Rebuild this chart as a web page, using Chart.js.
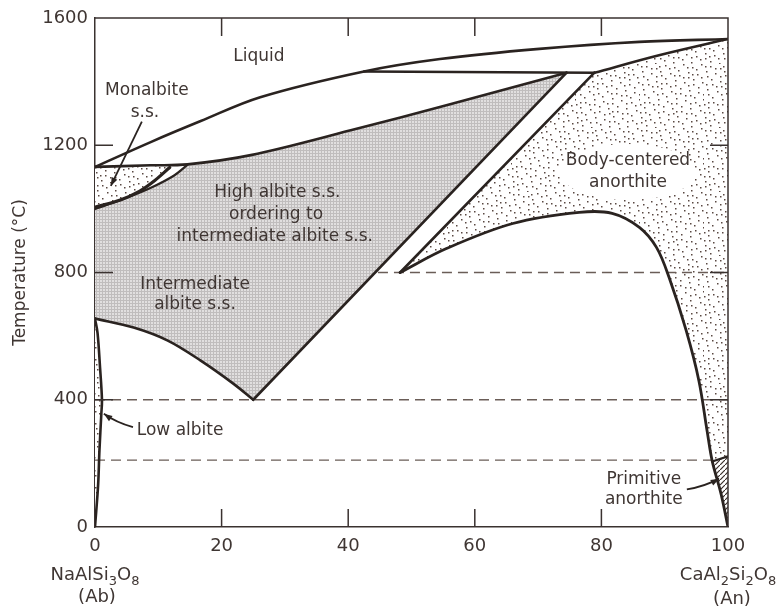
<!DOCTYPE html>
<html>
<head>
<meta charset="utf-8">
<script src="https://cdn.jsdelivr.net/npm/chart.js@4.4.1/dist/chart.umd.min.js"></script>
<style>
  html, body { margin: 0; padding: 0; background: #fff; }
  #wrap { width: 782px; height: 610px; }
</style>
</head>
<body>
<div id="wrap"><canvas id="phase" width="782" height="610"></canvas></div>
<script>
// x = mol % An (CaAl2Si2O8), y = temperature in °C
const liquidus = [[0, 1132], [8.8, 1210], [16.7, 1276], [26.1, 1351], [42.5, 1432], [54.5, 1471], [70.2, 1503], [86, 1525], [100, 1534]];
const solidusAb = [[0, 1132], [8.8, 1137], [14.6, 1140], [24.6, 1169], [40.4, 1247], [56.1, 1329], [74.5, 1428]];
const peritectic = [[42.5, 1432], [78.9, 1428]];
const solidusAn = [[78.9, 1428], [89.1, 1483], [100, 1534]];
const monalbiteBase = [[11.8, 1130], [9.5, 1090], [7, 1055], [4, 1028], [0, 1005]];
const highAlbiteTop = [[0, 1000], [5, 1035], [9, 1068], [12.5, 1105], [14.6, 1138]];
const orderingLine = [[25, 400], [74.5, 1428]];
const intermediateBase = [[0, 655], [6.1, 627], [11.5, 586], [16.7, 523], [21.9, 450], [25, 400]];
const bodyCenteredEdge = [[48.2, 800], [78.9, 1428]];
const bodyCenteredBase = [[48.2, 800], [55.6, 876], [66, 954], [76.5, 989], [81.7, 986], [86, 942], [88.7, 879], [90.7, 784], [93.4, 617], [95.4, 460], [96.7, 302], [97.5, 208], [98.9, 104], [100, 0]];
const primitiveTop = [[97.5, 206], [100, 222]];
const lowAlbite = [[0, 655], [0.4, 610], [0.8, 500], [1.1, 400], [1.0, 356], [0.7, 240], [0.5, 135], [0, 0]];
const dashed800 = [[44.7, 800], [100, 800]];
const dashed400 = [[0, 400], [100, 400]];
const dashed210 = [[0, 210], [97.5, 210]];
const xTicks = [0, 20, 40, 60, 80, 100];
const yTicks = [0, 400, 800, 1200, 1600];

const INK = '#2a2320';
const TEXT = '#3f3633';
const FONT = '"DejaVu Sans", sans-serif';

// region labels and pointers, placed in data coordinates
const notes = [
    { text: 'Liquid', x: 25.9, y: 1478 },
    { text: 'Monalbite', x: 8.2, y: 1371 },
    { text: 's.s.', x: 7.9, y: 1302 },
    { text: 'High albite s.s.', x: 28.8, y: 1050 },
    { text: 'ordering to', x: 28.6, y: 981 },
    { text: 'intermediate albite s.s.', x: 28.4, y: 912 },
    { text: 'Intermediate', x: 15.8, y: 761 },
    { text: 'albite s.s.', x: 15.8, y: 698 },
    { text: 'Body-centered', x: 84.2, y: 1151 },
    { text: 'anorthite', x: 84.2, y: 1082 },
    { text: 'Low albite', x: 6.6, y: 302, align: 'left' },
    { text: 'Primitive', x: 86.7, y: 148 },
    { text: 'anorthite', x: 86.7, y: 85 }
];
const pointers = [
    [[7.4, 1274], [2.5, 1072]],
    [[6.0, 314], [3.4, 328], [1.4, 356]],
    [[93.5, 118], [96.4, 128], [98.6, 152]]
];

function pt(arr) {
    return arr.map(([x, y]) => ({ x, y }));
}

function crossHatch() {
    const c = document.createElement('canvas');
    c.width = c.height = 3;
    const g = c.getContext('2d');
    g.fillStyle = '#e1dfdf'; g.fillRect(0, 0, 3, 3);
    g.fillStyle = '#c0bdbd'; g.fillRect(0, 0, 3, 1); g.fillRect(0, 0, 1, 3);
    return g.createPattern(c, 'repeat');
}

// quasi-uniform dot texture (R2 low-discrepancy sequence)
function stipple() {
    const n = 64;
    const c = document.createElement('canvas');
    c.width = c.height = n;
    const g = c.getContext('2d');
    g.fillStyle = '#ffffff'; g.fillRect(0, 0, n, n);
    g.fillStyle = '#5a4943';
    const a1 = 0.7548776662, a2 = 0.5698402910;
    for (let i = 1; i <= 120; i++) {
        const px = ((0.5 + a1 * i) % 1) * n;
        const py = ((0.5 + a2 * i) % 1) * n;
        g.fillRect(Math.floor(px), Math.floor(py), 1.5, 1.5);
    }
    return g.createPattern(c, 'repeat');
}

function hatch() {
    const c = document.createElement('canvas');
    c.width = c.height = 5;
    const g = c.getContext('2d');
    g.fillStyle = '#ffffff'; g.fillRect(0, 0, 5, 5);
    g.strokeStyle = '#3a302c'; g.lineWidth = 1.2;
    g.beginPath(); g.moveTo(0, 5); g.lineTo(5, 0); g.stroke();
    return g.createPattern(c, 'repeat');
}

function area(points, fillStyle) {
    return {
        data: pt(points), showLine: true, fill: 'shape', backgroundColor: fillStyle,
        borderWidth: 0, pointRadius: 0, tension: 0, order: 10
    };
}

function edge(points, width, curve) {
    return {
        data: pt(points), showLine: true, fill: false, borderColor: INK, borderWidth: width,
        pointRadius: 0, tension: curve ? 0.35 : 0, order: 2,
        borderCapStyle: 'round', borderJoinStyle: 'round'
    };
}

function dashed(points) {
    return {
        data: pt(points), showLine: true, fill: false, borderColor: '#6a5d57', borderWidth: 1.3,
        borderDash: [10, 6], pointRadius: 0, tension: 0, order: 3
    };
}

// polygons built from the boundary curves above
const grayRegion = [...highAlbiteTop, ...solidusAb.slice(3), orderingLine[0], ...intermediateBase.slice().reverse()];
const monalbiteRegion = [solidusAb[0], solidusAb[1], ...monalbiteBase];
const bodyCenteredRegion = [...bodyCenteredEdge, ...solidusAn.slice(1), ...primitiveTop.slice().reverse(), ...bodyCenteredBase.slice(0, 12).reverse()];
const primitiveRegion = [...primitiveTop, ...bodyCenteredBase.slice(11).reverse()];

const decorations = {
    id: 'decorations',
    afterDatasetsDraw(chart) {
        const { ctx, chartArea: a, scales: { x, y } } = chart;
        ctx.save();

        // frame top/right + inward ticks
        ctx.strokeStyle = '#3a3230';
        ctx.lineWidth = 1.5;
        ctx.beginPath();
        ctx.moveTo(a.left, a.top); ctx.lineTo(a.right, a.top); ctx.lineTo(a.right, a.bottom);
        ctx.stroke();
        const tl = 18;
        ctx.beginPath();
        xTicks.slice(1, -1).forEach(v => {
            const px = x.getPixelForValue(v);
            ctx.moveTo(px, a.top); ctx.lineTo(px, a.top + tl);
            ctx.moveTo(px, a.bottom); ctx.lineTo(px, a.bottom - tl);
        });
        yTicks.slice(1, -1).forEach(v => {
            const py = y.getPixelForValue(v);
            ctx.moveTo(a.left, py); ctx.lineTo(a.left + tl, py);
            ctx.moveTo(a.right, py); ctx.lineTo(a.right - tl, py);
        });
        ctx.stroke();

        // white patch behind the anorthite label
        ctx.fillStyle = '#ffffff';
        const bx = x.getPixelForValue(84.2), by = y.getPixelForValue(1116);
        ctx.beginPath();
        ctx.ellipse(bx, by, 68, 28, 0, 0, Math.PI * 2);
        ctx.fill();

        // labels
        ctx.fillStyle = TEXT;
        ctx.font = '17px ' + FONT;
        ctx.textBaseline = 'middle';
        notes.forEach(n => {
            ctx.textAlign = n.align || 'center';
            ctx.fillText(n.text, x.getPixelForValue(n.x), y.getPixelForValue(n.y));
        });

        // pointers
        ctx.strokeStyle = INK;
        ctx.fillStyle = INK;
        ctx.lineWidth = 1.8;
        pointers.forEach(p => {
            const pts = p.map(([vx, vy]) => [x.getPixelForValue(vx), y.getPixelForValue(vy)]);
            ctx.beginPath();
            ctx.moveTo(pts[0][0], pts[0][1]);
            if (pts.length === 3) {
                ctx.quadraticCurveTo(pts[1][0], pts[1][1], pts[2][0], pts[2][1]);
            } else {
                ctx.lineTo(pts[1][0], pts[1][1]);
            }
            ctx.stroke();
            const [ex, ey] = pts[pts.length - 1];
            const [sx, sy] = pts[pts.length - 2];
            const ang = Math.atan2(ey - sy, ex - sx);
            ctx.beginPath();
            ctx.moveTo(ex, ey);
            ctx.lineTo(ex - 9 * Math.cos(ang - 0.35), ey - 9 * Math.sin(ang - 0.35));
            ctx.lineTo(ex - 9 * Math.cos(ang + 0.35), ey - 9 * Math.sin(ang + 0.35));
            ctx.closePath();
            ctx.fill();
        });

        // end-member formulas
        drawFormula(ctx, [['NaAlSi', 0], ['3', 1], ['O', 0], ['8', 1]], x.getPixelForValue(0), a.bottom + 53);
        drawFormula(ctx, [['CaAl', 0], ['2', 1], ['Si', 0], ['2', 1], ['O', 0], ['8', 1]], x.getPixelForValue(100), a.bottom + 53);
        ctx.fillStyle = TEXT;
        ctx.font = '18px ' + FONT;
        ctx.textAlign = 'center';
        ctx.textBaseline = 'alphabetic';
        ctx.fillText('(Ab)', x.getPixelForValue(0) + 2, a.bottom + 75);
        ctx.fillText('(An)', x.getPixelForValue(100) + 4, a.bottom + 77);
        ctx.restore();
    }
};

function drawFormula(ctx, parts, cx, base) {
    const big = '18px ' + FONT, small = '13px ' + FONT;
    let w = 0;
    parts.forEach(([t, sub]) => { ctx.font = sub ? small : big; w += ctx.measureText(t).width; });
    let px = cx - w / 2;
    ctx.fillStyle = TEXT;
    ctx.textAlign = 'left';
    ctx.textBaseline = 'alphabetic';
    parts.forEach(([t, sub]) => {
        ctx.font = sub ? small : big;
        ctx.fillText(t, px, base + (sub ? 5 : 0));
        px += ctx.measureText(t).width;
    });
}

const gray = crossHatch();
const dots = stipple();

new Chart(document.getElementById('phase'), {
    type: 'scatter',
    data: {
        datasets: [
            area(grayRegion, gray),
            area(monalbiteRegion, dots),
            area(bodyCenteredRegion, dots),
            area(primitiveRegion, hatch()),
            area(lowAlbite, dots),
            dashed(dashed800),
            dashed(dashed400),
            dashed(dashed210),
            edge(liquidus, 2.6, true),
            edge(solidusAb, 2.6, true),
            edge(peritectic, 2.4, false),
            edge(solidusAn, 2.6, true),
            edge(monalbiteBase, 3.2, true),
            edge(highAlbiteTop, 2.2, true),
            edge(orderingLine, 2.6, false),
            edge(intermediateBase, 2.6, true),
            edge(bodyCenteredEdge, 2.6, false),
            edge(bodyCenteredBase, 2.8, true),
            edge(primitiveTop, 2.2, false),
            edge(lowAlbite, 2.6, true)
        ]
    },
    options: {
        responsive: false,
        animation: false,
        events: [],
        layout: { padding: { top: 18, right: 54, left: 0, bottom: 0 } },
        plugins: {
            legend: { display: false },
            tooltip: { enabled: false }
        },
        scales: {
            x: {
                type: 'linear', min: 0, max: 100,
                afterBuildTicks: s => { s.ticks = xTicks.map(v => ({ value: v })); },
                grid: { display: false, drawTicks: false },
                border: { display: true, color: '#3a3230', width: 1.5 },
                ticks: { font: { family: FONT, size: 18 }, color: TEXT, padding: 9, maxRotation: 0, callback: v => String(v) },
                afterFit: s => { s.height = 83; }
            },
            y: {
                type: 'linear', min: 0, max: 1600,
                afterBuildTicks: s => { s.ticks = yTicks.map(v => ({ value: v })); },
                grid: { display: false, drawTicks: false },
                border: { display: true, color: '#3a3230', width: 1.5 },
                ticks: { font: { family: FONT, size: 18 }, color: TEXT, padding: 7, callback: v => String(v) },
                title: {
                    display: true, text: 'Temperature (°C)', color: TEXT,
                    font: { family: FONT, size: 17 }, padding: { top: 10, bottom: 0 }
                },
                afterFit: s => { s.width = 95; }
            }
        }
    },
    plugins: [decorations]
});
</script>
</body>
</html>
